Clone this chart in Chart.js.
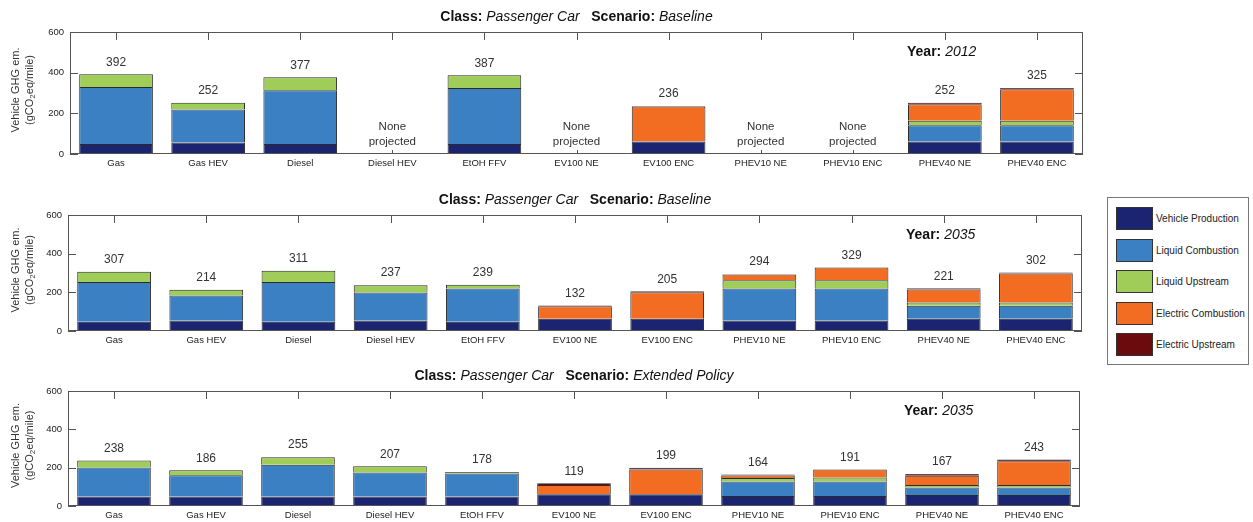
<!DOCTYPE html>
<html>
<head>
<meta charset="utf-8">
<script src="https://cdn.jsdelivr.net/npm/chart.js@4/dist/chart.umd.min.js"></script>
<style>
  body { margin: 0; background: #fff; font-family: "Liberation Sans", Arial, sans-serif; }
  #page { position: relative; width: 1253px; height: 522px; }
  .panel { position: absolute; left: 0; }
  #legend { position: absolute; left: 1107px; top: 197px; width: 140px; height: 166px;
            border: 1px solid #777; background: #fff; }
  .item { position: absolute; left: 8px; height: 23px; }
  .swatch { position: absolute; left: 0; top: 0; width: 35px; height: 21px; border: 1px solid #333; }
  .label { position: absolute; left: 40px; top: 0; line-height: 23px; font-size: 10px; color: #222; white-space: nowrap; }
</style>
</head>
<body>
<div id="page">
  <canvas id="panel1" class="panel" width="1100" height="178" style="top:0px"></canvas>
  <canvas id="panel2" class="panel" width="1100" height="178" style="top:178px"></canvas>
  <canvas id="panel3" class="panel" width="1100" height="166" style="top:356px"></canvas>
  <div id="legend"></div>
</div>
<script>
var categories = ['Gas', 'Gas HEV', 'Diesel', 'Diesel HEV', 'EtOH FFV', 'EV100 NE', 'EV100 ENC',
                  'PHEV10 NE', 'PHEV10 ENC', 'PHEV40 NE', 'PHEV40 ENC'];
var seriesNames = ['Vehicle Production', 'Liquid Combustion', 'Liquid Upstream', 'Electric Combustion', 'Electric Upstream'];
var seriesColors = ['#1a2470', '#3a80c3', '#a0cd57', '#f26c22', '#6b0b0e'];
var yTicks = [0, 200, 400, 600];

// Passenger car, baseline, 2012
var production2012    = [49, 56, 49, null, 49, null, 62, null, null, 62, 62];
var liqCombustion2012 = [280, 163, 265, null, 275, null, null, null, null, 79, 79];
var liqUpstream2012   = [63, 33, 63, null, 63, null, null, null, null, 23, 23];
var elecCombustion2012= [null, null, null, null, null, null, 172, null, null, 81, 155];
var elecUpstream2012  = [null, null, null, null, null, null, 2, null, null, 7, 6];
var totals2012        = [392, 252, 377, null, 387, null, 236, null, null, 252, 325];

// Passenger car, baseline, 2035
var production2035    = [48, 54, 48, 54, 48, 64, 64, 54, 54, 64, 64];
var liqCombustion2035 = [206, 129, 206, 145, 172, null, null, 166, 166, 66, 66];
var liqUpstream2035   = [53, 31, 57, 38, 19, null, null, 43, 43, 18, 18];
var elecCombustion2035= [null, null, null, null, null, 64, 137, 29, 65, 67, 150];
var elecUpstream2035  = [null, null, null, null, null, 4, 4, 2, 1, 6, 4];
var totals2035        = [307, 214, 311, 237, 239, 132, 205, 294, 329, 221, 302];

// Passenger car, extended policy, 2035
var productionExt     = [49, 49, 49, 49, 49, 61, 61, 52, 52, 57, 57];
var liqCombustionExt  = [152, 112, 166, 126, 121, null, null, 76, 76, 40, 40];
var liqUpstreamExt    = [37, 25, 40, 32, 8, null, null, 18, 21, 12, 12];
var elecCombustionExt = [null, null, null, null, null, 49, 130, 13, 42, 49, 125];
var elecUpstreamExt   = [null, null, null, null, null, 9, 8, 5, null, 9, 9];
var totalsExt         = [238, 186, 255, 207, 178, 119, 199, 164, 191, 167, 243];

var FONT = '"Liberation Sans", Arial, sans-serif';

function drawRuns( ctx, runs, x, y, align )
{
    // runs: [[text, font], ...] drawn side by side
    var w = 0;
    runs.forEach(function(r) { ctx.font = r[1]; w += ctx.measureText(r[0]).width; });
    var cx = align === 'center' ? x - w / 2 : x;
    runs.forEach(function(r) {
        ctx.font = r[1];
        ctx.fillText(r[0], cx, y);
        cx += ctx.measureText(r[0]).width;
    });
}

var axesBox = {
    id: 'axesBox',
    beforeDatasetsDraw: function(chart) {
        var ctx = chart.ctx, a = chart.chartArea, x = chart.scales.x;
        ctx.save();
        ctx.strokeStyle = '#555';
        ctx.lineWidth = 1;
        ctx.beginPath();
        x.ticks.forEach(function(t, i) {
            var px = Math.round(x.getPixelForTick(i)) + 0.5;
            ctx.moveTo(px, a.bottom); ctx.lineTo(px, a.bottom - 4);
        });
        ctx.stroke();
        ctx.restore();
    },
    afterDraw: function(chart, args, opts) {
        var ctx = chart.ctx, a = chart.chartArea, x = chart.scales.x, y = chart.scales.y;
        ctx.save();
        ctx.strokeStyle = '#555';
        ctx.lineWidth = 1;
        ctx.strokeRect(Math.round(a.left) + 0.5, Math.round(a.top) + 0.5,
                       Math.round(a.width) - 1, Math.round(a.height) - 1);
        ctx.beginPath();
        x.ticks.forEach(function(t, i) {
            var px = Math.round(x.getPixelForTick(i)) + 0.5;
            ctx.moveTo(px, a.top); ctx.lineTo(px, a.top + 8);
        });
        y.ticks.forEach(function(t) {
            var py = Math.round(y.getPixelForValue(t.value)) + 0.5;
            ctx.moveTo(a.left, py); ctx.lineTo(a.left + 8, py);
            ctx.moveTo(a.right, py); ctx.lineTo(a.right - 8, py);
        });
        ctx.stroke();

        // totals above each stack, or a note where nothing is projected
        ctx.fillStyle = '#333';
        ctx.textAlign = 'left';
        ctx.textBaseline = 'middle';
        opts.totals.forEach(function(v, i) {
            var px = x.getPixelForValue(i);
            if (v === null) {
                drawRuns(ctx, [['None', '11.5px ' + FONT]], px, a.bottom - 27, 'center');
                drawRuns(ctx, [['projected', '11.5px ' + FONT]], px, a.bottom - 12, 'center');
            } else {
                drawRuns(ctx, [[String(v), '12px ' + FONT]], px, y.getPixelForValue(v) - 12, 'center');
            }
        });

        // title and year
        ctx.fillStyle = '#111';
        drawRuns(ctx, [
            ['Class: ', 'bold 14px ' + FONT],
            ['Passenger Car', 'italic 14px ' + FONT],
            ['   Scenario: ', 'bold 14px ' + FONT],
            [opts.scenario, 'italic 14px ' + FONT]
        ], (a.left + a.right) / 2, a.top - 15, 'center');
        drawRuns(ctx, [
            ['Year: ', 'bold 14px ' + FONT],
            [opts.year, 'italic 14px ' + FONT]
        ], a.right - 176, a.top + 20, 'left');

        // y axis title, two rotated lines with a subscript
        var cy = (a.top + a.bottom) / 2 - 3;
        ctx.fillStyle = '#333';
        ctx.translate(16, cy);
        ctx.rotate(-Math.PI / 2);
        drawRuns(ctx, [['Vehicle GHG em.', '11px ' + FONT]], 0, 0, 'center');
        ctx.translate(0, 14);
        var parts = [['(gCO', '11px ' + FONT, 0], ['2', '8px ' + FONT, 3], ['eq/mile)', '11px ' + FONT, 0]];
        var w = 0;
        parts.forEach(function(p) { ctx.font = p[1]; w += ctx.measureText(p[0]).width; });
        var cx = -w / 2;
        parts.forEach(function(p) {
            ctx.font = p[1];
            ctx.fillText(p[0], cx, p[2]);
            cx += ctx.measureText(p[0]).width;
        });
        ctx.restore();
    }
};

function drawPanel( canvasId, series, totals, scenario, year, box )
{
    var datasets = series.map(function(values, k) {
        return {
            label: seriesNames[k],
            data: values,
            backgroundColor: seriesColors[k],
            borderColor: '#2a2a2a',
            borderWidth: 1,
            borderSkipped: 'start',
            barPercentage: 0.8,
            categoryPercentage: 1.0
        };
    });
    var canvas = document.getElementById(canvasId);
    return new Chart(canvas.getContext('2d'), {
        type: 'bar',
        data: { labels: categories, datasets: datasets },
        plugins: [axesBox],
        options: {
            responsive: false,
            animation: false,
            layout: { padding: { top: box.top, right: canvas.width - box.right, left: 0, bottom: 0 } },
            plugins: {
                legend: { display: false },
                tooltip: { enabled: false },
                axesBox: { totals: totals, scenario: scenario, year: year }
            },
            scales: {
                x: {
                    stacked: true,
                    offset: true,
                    grid: { display: false, drawTicks: false, tickLength: 0 },
                    border: { display: false },
                    ticks: { color: '#222', font: { family: FONT, size: 9.5 }, padding: 4, maxRotation: 0, autoSkip: false },
                    afterFit: function(scale) { scale.height = canvas.height - box.bottom; }
                },
                y: {
                    stacked: true,
                    min: 0,
                    max: 600,
                    grid: { display: false, drawTicks: false, tickLength: 0 },
                    border: { display: false },
                    afterBuildTicks: function(scale) { scale.ticks = yTicks.map(function(v) { return { value: v }; }); },
                    ticks: { color: '#222', font: { family: FONT, size: 9.5 }, padding: 6 },
                    afterFit: function(scale) { scale.width = box.left; }
                }
            }
        }
    });
}

drawPanel('panel1',
    [production2012, liqCombustion2012, liqUpstream2012, elecCombustion2012, elecUpstream2012],
    totals2012, 'Baseline', '2012', { left: 70, right: 1083, top: 32, bottom: 154 });
drawPanel('panel2',
    [production2035, liqCombustion2035, liqUpstream2035, elecCombustion2035, elecUpstream2035],
    totals2035, 'Baseline', '2035', { left: 68, right: 1082, top: 37, bottom: 153 });
drawPanel('panel3',
    [productionExt, liqCombustionExt, liqUpstreamExt, elecCombustionExt, elecUpstreamExt],
    totalsExt, 'Extended Policy', '2035', { left: 68, right: 1080, top: 35, bottom: 150 });

// shared legend at the right
var legend = document.getElementById('legend');
seriesNames.forEach(function(name, k) {
    var item = document.createElement('div');
    item.className = 'item';
    item.style.top = (9 + k * 31.5) + 'px';
    item.innerHTML = '<div class="swatch" style="background:' + seriesColors[k] + '"></div>' +
                     '<div class="label">' + name + '</div>';
    legend.appendChild(item);
});
</script>
</body>
</html>
